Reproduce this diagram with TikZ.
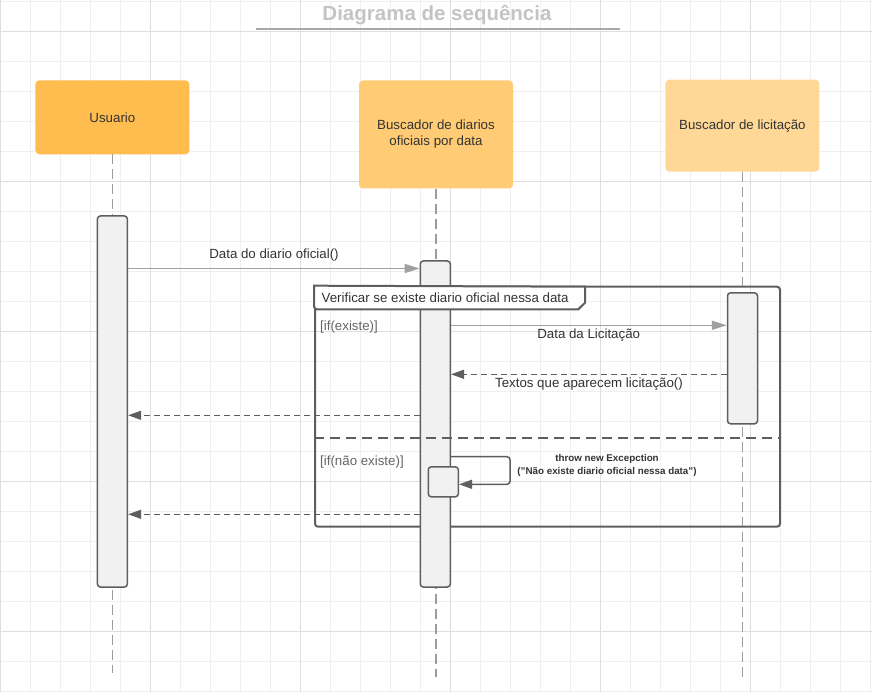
\documentclass[tikz,border=0pt]{standalone}
\usepackage{fontspec}
\setmainfont{Liberation Sans}
\usetikzlibrary{arrows.meta}
\definecolor{gridminor}{HTML}{EFEFEF}
\definecolor{gridmajor}{HTML}{DEDEDE}
\definecolor{dk}{HTML}{5E5E5E}
\definecolor{msggray}{HTML}{A0A0A0}
\definecolor{lifegray}{HTML}{9C9C9C}
\definecolor{titlegray}{HTML}{C4C4C4}
\definecolor{uline}{HTML}{A8A8A8}
\definecolor{txt}{HTML}{333333}
\definecolor{guard}{HTML}{666666}
\definecolor{barfill}{HTML}{F1F1F1}
\definecolor{usufill}{HTML}{FFBD4F}
\definecolor{diafill}{HTML}{FFCB74}
\definecolor{licfill}{HTML}{FFD898}
\begin{document}
\begin{tikzpicture}[x=1pt,y=-1pt,font=\fontsize{13.3}{16}\selectfont,
  actorbox/.style={rounded corners=4pt,minimum width=154pt,text=txt,align=center},
  actbar/.style={draw=dk,fill=barfill,line width=1.5pt,rounded corners=3pt,minimum width=30pt,inner sep=0pt},
  lifeline/.style={draw=lifegray,line width=1.5pt,dash pattern=on 10pt off 5pt},
  msg/.style={draw=msggray,line width=1.5pt,-{Triangle[length=15pt,width=9pt]}},
  reply/.style={draw=dk,line width=1.3pt,dash pattern=on 6pt off 4pt,-{Triangle[length=13pt,width=9pt]}},
  lbl/.style={text=txt,inner sep=0pt}]
\useasboundingbox (0,0) rectangle (872,692);
\fill[white] (0,0) rectangle (872,692);
\foreach \x in {0.7,30.7,...,872} \draw[gridminor,line width=1pt] (\x,0) -- (\x,692);
\foreach \y in {1.7,31.7,...,692} \draw[gridminor,line width=1pt] (0,\y) -- (872,\y);
\foreach \x in {0.7,150.7,...,872} \draw[gridmajor,line width=1.2pt] (\x,0) -- (\x,692);
\foreach \y in {31.7,181.7,...,692} \draw[gridmajor,line width=1.2pt] (0,\y) -- (872,\y);

\node[font=\bfseries\fontsize{20.5}{24}\selectfont,text=titlegray] (titulo) at (437,15.5) {Diagrama de sequência};
\draw[uline,line width=1.5pt] (256,29) -- (620,29);

\node[actorbox,fill=usufill,minimum height=74pt] (usuario) at (112.4,117.3) {Usuario};
\node[actorbox,fill=diafill,minimum height=108pt] (buscdiario) at (436,134.5) {Buscador de diarios\\oficiais por data};
\node[actorbox,fill=licfill,minimum height=92pt] (busclic) at (742.4,125.7) {Buscador de licitação};

\draw[lifeline] (usuario.south) -- (usuario.south |- 0,673);
\draw[lifeline] (buscdiario.south) -- (buscdiario.south |- 0,677);
\draw[lifeline] (busclic.south) -- (busclic.south |- 0,677);

\node[draw=dk,line width=2pt,rounded corners=3pt,minimum width=465pt,minimum height=240pt,inner sep=0pt] (frag) at (547.5,406.7) {};

\node[actbar,minimum height=371pt] (actusu) at (112.4,401.5) {};
\node[actbar,minimum height=326pt] (actdia) at (435.3,424) {};
\node[actbar,minimum height=131pt] (actlic) at (742.5,358.3) {};
\node[actbar,minimum height=30pt] (actself) at (443.3,481.8) {};

\filldraw[draw=dk,fill=white,line width=2pt,rounded corners=3pt] (frag.north west) -- (frag.west |- 0,309.3) [sharp corners] -- (578.3,309.3) -- (585,302.7) -- (585,286.7) -- cycle;
\node[lbl,anchor=west] (fragtitulo) at (321.5,297.3) {Verificar se existe diario oficial nessa data};

\draw[msg] (actusu.east |- 0,268.5) -- (actdia.west |- 0,268.5);
\node[lbl] (lbldata) at (274,255) {Data do diario oficial()};

\node[lbl,text=guard,anchor=west] (guardsim) at (320,327.3) {[if(existe)]};
\draw[msg] (actdia.east |- 0,325.3) -- (actlic.west |- 0,325.3);
\node[lbl] (lbllic) at (588.7,335) {Data da Licitação};
\draw[reply] (actlic.west |- 0,374.3) -- (actdia.east |- 0,374.3);
\node[lbl] (lbltextos) at (589,384) {Textos que aparecem licitação()};
\draw[reply] (actdia.west |- 0,415.3) -- (actusu.east |- 0,415.3);

\draw[dk,line width=2pt,dash pattern=on 10pt off 6pt] (frag.west |- 0,437.7) -- (frag.east |- 0,437.7);

\node[lbl,text=guard,anchor=west] (guardnao) at (320,462.3) {[if(não existe)]};
\draw[dk,line width=1.5pt,rounded corners=3pt,-{Triangle[length=13pt,width=9pt]}] (actdia.east |- 0,456.7) -| (510,484.3) -- (actself.east |- 0,484.3);
\node[lbl,align=center,font=\bfseries\fontsize{9.8}{12.4}\selectfont] (lblself) at (607,465.5) {throw new Excepction\\("Não existe diario oficial nessa data")};
\draw[reply] (actdia.west |- 0,514.3) -- (actusu.east |- 0,514.3);
\end{tikzpicture}
\end{document}
